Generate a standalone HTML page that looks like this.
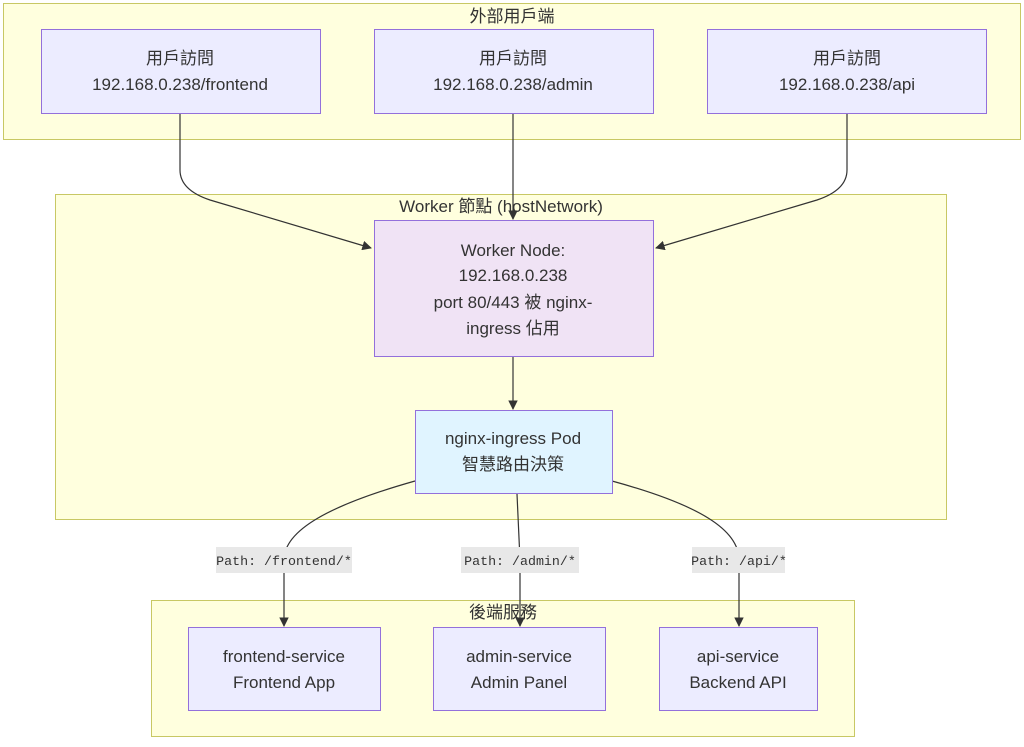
<!DOCTYPE html>
<html><head><meta charset="utf-8"><style>
html,body{margin:0;padding:0;background:#fff;}
svg text{font-family:"Liberation Sans","Noto Sans CJK TC",sans-serif;font-size:17px;fill:#333;text-anchor:middle;}
.mono{font-family:"Liberation Mono","Noto Sans CJK TC",monospace;font-size:13.3px;}
</style></head><body>
<svg width="1024" height="742" xmlns="http://www.w3.org/2000/svg">
<defs><marker id="a" viewBox="0 0 10 10" refX="9" refY="5" markerWidth="8" markerHeight="8" orient="auto"><path d="M0,0L10,5L0,10z" fill="#333"/></marker></defs>
<g fill="#ffffde" stroke="#c8c864" stroke-width="1">
<rect x="3.5" y="3.5" width="1017" height="136"/>
<rect x="55.5" y="194.5" width="891" height="325"/>
<rect x="151.5" y="600.5" width="703" height="136"/>
</g>
<text x="512" y="22">外部用戶端</text>
<text x="501" y="212">Worker 節點 (hostNetwork)</text>
<text x="503" y="618">後端服務</text>
<g fill="none" stroke="#333" stroke-width="1.2">
<path d="M180,113 V170 Q180,190 210,200 L371,248" marker-end="url(#a)"/>
<path d="M513,113 V219" marker-end="url(#a)"/>
<path d="M847,113 V170 Q847,190 817,200 L656,248" marker-end="url(#a)"/>
<path d="M513,356 V409" marker-end="url(#a)"/>
<path d="M415,481 C330,505 284,530 284,560 V626" marker-end="url(#a)"/>
<path d="M517,494 L520,560 V626" marker-end="url(#a)"/>
<path d="M612,481 C700,505 739,530 739,560 V626" marker-end="url(#a)"/>
</g>
<g stroke="#9370db" stroke-width="1" fill="#ececff">
<rect x="41.5" y="29.5" width="279" height="84"/>
<rect x="374.5" y="29.5" width="279" height="84"/>
<rect x="707.5" y="29.5" width="279" height="84"/>
<rect x="374.5" y="220.5" width="279" height="136" fill="#f0e3f5"/>
<rect x="415.5" y="410.5" width="197" height="83" fill="#e0f4ff"/>
<rect x="188.5" y="627.5" width="192" height="83"/>
<rect x="433.5" y="627.5" width="172" height="83"/>
<rect x="659.5" y="627.5" width="158" height="83"/>
</g>
<text x="180" y="64">用戶訪問</text><text x="180" y="90">192.168.0.238/frontend</text>
<text x="513" y="64">用戶訪問</text><text x="513" y="90">192.168.0.238/admin</text>
<text x="847" y="64">用戶訪問</text><text x="847" y="90">192.168.0.238/api</text>
<text x="513" y="256">Worker Node:</text>
<text x="513" y="281">192.168.0.238</text>
<text x="513" y="308">port 80/443 被 nginx-</text>
<text x="513" y="334">ingress 佔用</text>
<text x="513" y="444">nginx-ingress Pod</text>
<text x="513" y="470">智慧路由決策</text>
<text x="284" y="662">frontend-service</text><text x="284" y="688">Frontend App</text>
<text x="519" y="662">admin-service</text><text x="519" y="688">Admin Panel</text>
<text x="738" y="662">api-service</text><text x="738" y="688">Backend API</text>
<g fill="#e8e8e8"><rect x="216" y="547" width="136" height="26"/><rect x="461" y="547" width="118" height="26"/><rect x="692" y="547" width="93" height="26"/></g>
<text class="mono" x="284" y="565">Path: /frontend/*</text>
<text class="mono" x="520" y="565">Path: /admin/*</text>
<text class="mono" x="739" y="565">Path: /api/*</text>
</svg>
</body></html>
